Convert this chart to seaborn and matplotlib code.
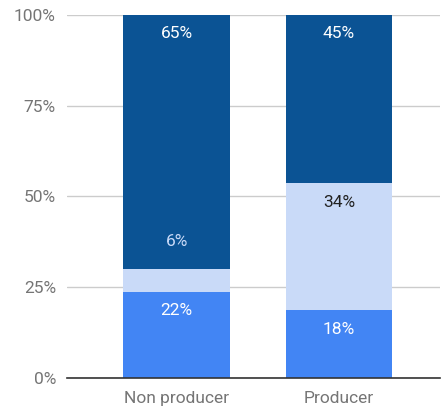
import numpy as np
import pandas as pd
import matplotlib
matplotlib.use("Agg")
import matplotlib.pyplot as plt
import seaborn as sns

# Survey shares per group, bottom to top of each stack
categories = ["Non producer", "Producer"]
series_names = ["Bottom", "Middle", "Top"]
bottom_vals = [22, 18]
middle_vals = [6, 34]
top_vals = [65, 45]
y_ticks = [0, 25, 50, 75, 100]
y_tick_labels = ["0%", "25%", "50%", "75%", "100%"]

colors = ["#4285f4", "#c9daf8", "#0b5394"]
label_colors = ["#ffffff", "#212121", "#ffffff"]

sns.set_theme(style="white")
plt.rcParams["font.family"] = ["Roboto", "DejaVu Sans"]

values = np.array([bottom_vals, middle_vals, top_vals], dtype=float)  # series x category
shares = values / values.sum(axis=0) * 100
cum = np.cumsum(shares, axis=0)

df = pd.DataFrame({"category": categories})
for i, name in enumerate(series_names):
    df[name] = cum[i]

fig = plt.figure(figsize=(4.41, 4.09), dpi=100)
ax = fig.add_axes([0.152, 0.0765, 0.846, 0.8868])

# Draw the cumulative totals from the top down so each layer shows its own segment
for i in reversed(range(len(series_names))):
    sns.barplot(data=df, x="category", y=series_names[i], color=colors[i],
                saturation=1, width=0.656, ax=ax, linewidth=0)

ax.set_xlim(-0.675, 1.624)
ax.set_ylim(0, 100)
ax.set_yticks(y_ticks)
ax.set_yticklabels(y_tick_labels)
ax.set_xlabel("")
ax.set_ylabel("")
ax.yaxis.grid(True, color="#cccccc", linewidth=1)
ax.set_axisbelow(True)
for s in ["top", "right", "left"]:
    ax.spines[s].set_visible(False)
ax.spines["bottom"].set_color("#333333")
ax.spines["bottom"].set_linewidth(1.2)
ax.tick_params(axis="both", length=0, labelsize=12.5, colors="#757575")
ax.tick_params(axis="y", pad=8)
ax.tick_params(axis="x", pad=9.5)

# Value labels near the top of each segment; small segments get theirs above
for j in range(len(categories)):
    for i in range(len(series_names)):
        top = cum[i, j]
        if shares[i, j] < 10:
            dy, col = 19.5, colors[i]
        else:
            dy, col = -13.5, label_colors[i]
        ax.annotate(f"{int(values[i, j])}%", xy=(j, top), xytext=(0, dy),
                    textcoords="offset points", ha="center", va="center",
                    fontsize=12.5, color=col)

fig.savefig("out.png", dpi=100)
